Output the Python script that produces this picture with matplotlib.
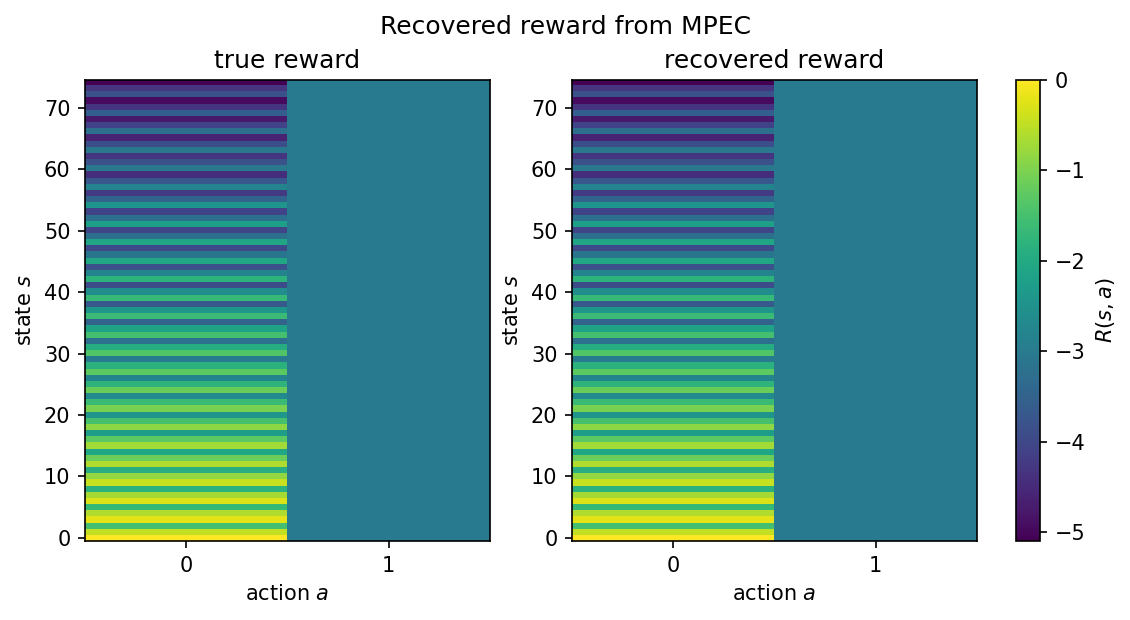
import numpy as np
import matplotlib
matplotlib.use('Agg')
import matplotlib.pyplot as plt

# reward for action 0 (keep), states 0..74
true_r_a0 = [
    0.00, -0.46, -1.53, -0.20, -0.60, -1.68, -0.26, -0.69, -1.84, -0.42,
    -0.82, -1.89, -0.60, -1.15, -2.04, -0.71, -1.28, -2.24, -0.87, -1.48,
    -2.45, -1.02, -1.63, -2.65, -1.15, -1.79, -2.80, -1.28, -1.84, -3.00,
    -1.38, -1.94, -3.21, -1.50, -2.17, -3.47, -1.63, -2.40, -3.67, -1.68,
    -2.60, -3.93, -1.81, -2.80, -3.83, -2.04, -3.11, -3.98, -2.09, -3.21,
    -4.03, -2.22, -3.21, -4.08, -2.45, -3.47, -4.23, -2.80, -3.72, -4.44,
    -3.06, -3.83, -4.34, -3.06, -3.88, -4.59, -3.21, -4.08, -4.74, -3.57,
    -4.34, -4.95, -3.83, -4.34, -5.10,
]
# reward for action 1 (replace) is flat
true_r_a1 = [-3.0] * 75

# recovered reward is visually identical to the true one
rec_r_a0 = list(true_r_a0)
rec_r_a1 = list(true_r_a1)

true_R = np.column_stack([true_r_a0, true_r_a1])
rec_R = np.column_stack([rec_r_a0, rec_r_a1])
vmin = min(true_R.min(), rec_R.min())
vmax = max(true_R.max(), rec_R.max())

W, H = 1130, 620
fig = plt.figure(figsize=(W / 150, H / 150), dpi=150)

ax1 = fig.add_axes([85 / W, 79 / H, 405 / W, 461 / H])
ax2 = fig.add_axes([572 / W, 79 / H, 405 / W, 461 / H])
cax = fig.add_axes([1016 / W, 79 / H, 24 / W, 461 / H])

for ax, R, title in [(ax1, true_R, 'true reward'), (ax2, rec_R, 'recovered reward')]:
    im = ax.imshow(R, origin='lower', aspect='auto', cmap='viridis',
                   vmin=vmin, vmax=vmax, interpolation='nearest')
    ax.set_title(title)
    ax.set_xlabel('action $a$')
    ax.set_ylabel('state $s$')
    ax.set_xticks([0, 1])
    ax.set_yticks(range(0, 75, 10))

cb = fig.colorbar(im, cax=cax)
cb.set_label('$R(s,a)$')
cb.set_ticks([0, -1, -2, -3, -4, -5])

fig.suptitle('Recovered reward from MPEC', fontsize=12, y=0.975)

plt.savefig('out.png', dpi=150)
